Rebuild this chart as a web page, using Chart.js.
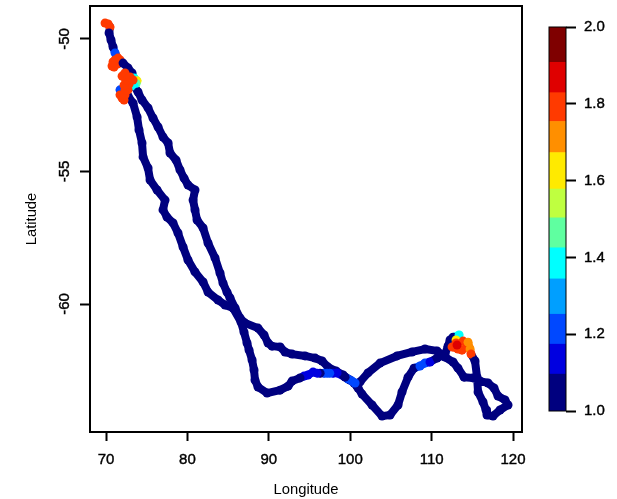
<!DOCTYPE html>
<html>
<head>
<meta charset="utf-8">
<title>Track</title>
<script src="https://cdn.jsdelivr.net/npm/chart.js@4/dist/chart.umd.min.js"></script>
<style>
  html, body { margin: 0; padding: 0; background: #fff; }
  #wrap { position: relative; width: 617px; height: 499px; }
  #wrap canvas { position: absolute; left: 0; top: 0; }
</style>
</head>
<body>
<div id="wrap">
  <canvas id="trackChart" width="617" height="499"></canvas>
  <canvas id="barChart" width="617" height="499"></canvas>
</div>
<script>
// Track values, one position per row group
const lons = [
  69.88, 70.25, 70.49, 70.37, 70.61, 70.86, 71.11, 71.47, 71.72, 71.23, 70.74, 70.98, 70.86, 71.47, 71.11,
  72.09, 72.70, 73.19, 73.44, 73.81, 73.69, 73.44, 73.93, 74.42, 75.16, 75.77, 76.39,
  77.00, 77.62, 77.86, 78.60, 79.09, 79.58, 80.07, 80.93, 80.69, 80.93, 81.18, 81.92,
  82.53, 83.39, 84.00, 84.37, 84.86, 85.23, 85.85, 86.46, 87.08, 88.67, 89.41, 89.90,
  90.39, 91.38, 91.99, 92.85, 94.45, 95.68, 96.54, 97.27, 98.25, 99.12, 99.97, 100.47,
  100.96, 101.45, 102.68, 103.91, 104.89, 105.87, 106.36, 107.10, 107.84, 108.57, 109.18, 109.80,
  110.66, 111.64, 112.01, 112.26, 112.63, 113.37, 113.00, 112.51, 113.24, 113.00, 113.86, 114.35,
  113.73, 113.12, 114.47, 114.72, 114.84, 115.33, 115.58, 115.70, 116.31, 116.68, 116.80, 117.54,
  118.40, 119.38, 119.01, 118.15, 117.66, 116.92, 115.95, 115.09, 113.98, 113.24, 112.63, 111.64,
  110.66, 109.18, 107.59, 105.75, 103.66, 102.18, 101.20, 100.84, 100.59, 100.22, 99.73, 99.36, 98.38, 97.89,
  97.48, 97.15, 96.79, 96.30, 95.93, 95.43, 94.81, 94.33, 93.83, 92.85, 92.36, 91.38, 89.78, 88.67, 88.30, 88.18,
  87.94, 87.57, 87.32, 86.95, 86.58, 85.60, 84.62, 83.76, 82.53, 81.92, 80.93, 80.07,
  79.46, 78.84, 78.23, 77.49, 77.00, 77.25, 76.27, 75.41, 75.16, 74.55, 74.42, 74.05,
  73.81, 73.32, 72.70, 71.72, 71.97, 72.21, 71.72, 72.33, 72.70, 72.33, 72.83, 72.21, 72.58, 71.97, 72.33, 72.95, 73.32
];
const lats = [
  -49.40, -49.43, -49.55, -49.77, -50.04, -50.30, -50.53, -50.72, -50.79, -50.91, -51.02, -51.06, -50.87, -50.94, -50.79,
  -50.91, -51.09, -51.28, -51.47, -51.58, -51.68, -51.77, -52.00, -52.30, -52.60, -52.98, -53.32,
  -53.70, -53.92, -54.30, -54.57, -54.94, -55.25, -55.51, -55.70, -56.08, -56.45, -56.83, -57.13,
  -57.70, -58.26, -58.83, -59.21, -59.55, -59.77, -60.15, -60.53, -60.72, -60.91, -61.17, -61.47,
  -61.59, -61.62, -61.81, -61.89, -61.96, -62.04, -62.15, -62.38, -62.53, -62.68, -62.87, -62.98,
  -63.17, -63.40, -63.81, -64.23, -64.19, -63.81, -63.32, -62.76, -62.42, -62.34, -62.23, -62.19,
  -62.04, -61.89, -61.59, -61.36, -61.25, -61.17, -61.36, -61.62, -61.70, -61.47, -61.40, -61.55,
  -61.74, -61.55, -61.44, -61.70, -61.89, -62.15, -62.76, -63.32, -63.70, -64.00, -64.19, -64.23,
  -64.00, -63.81, -63.62, -63.47, -63.17, -62.98, -62.91, -62.79, -62.76, -62.42, -62.19, -62.00,
  -61.77, -61.70, -61.81, -61.96, -62.23, -62.60, -62.94, -63.10, -62.98, -62.91, -62.83, -62.76, -62.60, -62.61,
  -62.61, -62.61, -62.61, -62.61, -62.61, -62.57, -62.68, -62.72, -62.79, -62.91, -63.10, -63.25, -63.36, -63.13, -62.87, -62.49,
  -62.11, -61.74, -61.47, -61.06, -60.68, -60.15, -60.04, -59.85, -59.55, -59.17, -58.79, -58.34,
  -57.85, -57.32, -56.94, -56.72, -56.45, -56.08, -55.70, -55.32, -54.87, -54.45, -53.92, -53.43,
  -52.94, -52.42, -52.15, -51.92, -52.23, -52.30, -52.11, -52.11, -51.92, -51.92, -51.70, -51.74, -51.55, -51.40, -51.28, -51.43, -51.55
];
const vals = [
  1.8, 1.8, 1.8, 1.05, 1.05, 1.05, 1.2, 1.8, 1.8, 1.8, 1.8, 1.8, 1.8, 1.8, 1.8,
  1.05, 1.05, 1.05, 1.4, 1.65, 1.5, 1.4, 1.05, 1.05, 1.05, 1.05, 1.05,
  1.05, 1.05, 1.05, 1.05, 1.05, 1.05, 1.05, 1.05, 1.05, 1.05, 1.05, 1.05,
  1.05, 1.05, 1.05, 1.05, 1.05, 1.05, 1.05, 1.05, 1.05, 1.05, 1.05, 1.05,
  1.05, 1.05, 1.05, 1.05, 1.05, 1.05, 1.05, 1.05, 1.05, 1.05, 1.05, 1.05,
  1.05, 1.05, 1.05, 1.05, 1.05, 1.05, 1.05, 1.05, 1.05, 1.25, 1.25, 1.15,
  1.05, 1.05, 1.05, 1.05, 1.05, 1.4, 1.65, 1.8, 1.8, 1.8, 1.8, 1.8,
  1.8, 1.88, 1.7, 1.7, 1.8, 1.05, 1.05, 1.05, 1.05, 1.05, 1.05, 1.05,
  1.05, 1.05, 1.05, 1.05, 1.05, 1.05, 1.05, 1.05, 1.05, 1.05, 1.05, 1.05,
  1.05, 1.05, 1.05, 1.05, 1.05, 1.05, 1.05, 1.05, 1.25, 1.25, 1.25, 1.05, 1.15, 1.15,
  1.25, 1.25, 1.25, 1.05, 1.15, 1.15, 1.15, 1.15, 1.05, 1.05, 1.05, 1.05, 1.05, 1.05, 1.05, 1.05,
  1.05, 1.05, 1.05, 1.05, 1.05, 1.05, 1.05, 1.05, 1.05, 1.05, 1.05, 1.05,
  1.05, 1.05, 1.05, 1.05, 1.05, 1.05, 1.05, 1.05, 1.05, 1.05, 1.05, 1.05,
  1.05, 1.05, 1.05, 1.2, 1.8, 1.8, 1.8, 1.8, 1.8, 1.8, 1.8, 1.8, 1.8, 1.8, 1.8, 1.8, 1.8
];

const lonTicks = [70, 80, 90, 100, 110, 120];
const latTicks = [-50, -55, -60];
const barTicks = [1.0, 1.2, 1.4, 1.6, 1.8, 2.0];

// Colour bar bands
const bandEdges = [1.0, 1.096, 1.174, 1.252, 1.344, 1.425, 1.503, 1.578, 1.673, 1.754, 1.829, 1.908, 2.0];
const bandColors = ['#00007f', '#0000e0', '#0048ff', '#009fff', '#00ffff', '#5fffa0',
                    '#bfff40', '#ffea00', '#ff8f00', '#ff3a00', '#df0000', '#7f0000'];

const fontFamily = '"Liberation Sans", Arial, sans-serif';

function colorFor(v) {
  for (let i = 0; i < bandColors.length; i++) {
    if (v < bandEdges[i + 1]) return bandColors[i];
  }
  return bandColors[bandColors.length - 1];
}

// Box around the plot area
const boxPlugin = {
  id: 'box',
  afterDatasetsDraw(chart) {
    const a = chart.chartArea;
    const ctx = chart.ctx;
    ctx.save();
    ctx.strokeStyle = '#000';
    ctx.lineWidth = 2;
    ctx.strokeRect(a.left, a.top, a.right - a.left, a.bottom - a.top);
    ctx.restore();
  }
};

new Chart(document.getElementById('trackChart'), {
  type: 'line',
  data: {
    datasets: [{
      data: lons.map((lon, i) => ({ x: lon, y: lats[i] })),
      parsing: false,
      borderWidth: 8,
      borderColor: '#00007f',
      borderJoinStyle: 'round',
      borderCapStyle: 'round',
      segment: { borderColor: c => colorFor(vals[c.p1DataIndex]) },
      pointRadius: 4.5,
      pointBorderWidth: 0,
      pointBackgroundColor: c => colorFor(vals[c.dataIndex]),
      tension: 0
    }]
  },
  options: {
    responsive: false,
    animation: false,
    layout: { padding: { top: 6, right: 95 } },
    plugins: { legend: { display: false }, tooltip: { enabled: false } },
    scales: {
      x: {
        type: 'linear',
        min: 68.03,
        max: 121.1,
        afterBuildTicks: s => { s.ticks = lonTicks.map(v => ({ value: v })); },
        afterFit: s => { s.height = 67; s.paddingLeft = 0; s.paddingRight = 0; },
        border: { display: false },
        grid: { drawOnChartArea: false, drawTicks: true, tickLength: 9, tickWidth: 2, tickColor: '#000' },
        ticks: { color: '#000', font: { family: fontFamily, size: 15 }, maxRotation: 0, padding: 10, textStrokeColor: '#000', textStrokeWidth: 0.4 },
        title: { display: true, text: 'Longitude', color: '#000', font: { family: fontFamily, size: 14.8 }, padding: { top: 0, bottom: 0 } }
      },
      y: {
        type: 'linear',
        min: -64.83,
        max: -48.755,
        afterBuildTicks: s => { s.ticks = latTicks.map(v => ({ value: v })); },
        afterFit: s => { s.width = 90; s.paddingTop = 0; s.paddingBottom = 0; },
        border: { display: false },
        grid: { drawOnChartArea: false, drawTicks: true, tickLength: 10, tickWidth: 2, tickColor: '#000' },
        ticks: {
          color: '#000', font: { family: fontFamily, size: 15 },
          minRotation: 90, maxRotation: 90, crossAlign: 'center', padding: 4,
          textStrokeColor: '#000', textStrokeWidth: 0.4
        },
        title: { display: true, text: 'Latitude', color: '#000', font: { family: fontFamily, size: 14.8 }, padding: { top: 23, bottom: 0 } }
      }
    }
  },
  plugins: [boxPlugin]
});

// Colour bar, one floating bar per band
new Chart(document.getElementById('barChart'), {
  type: 'bar',
  data: {
    labels: ['v'],
    datasets: bandColors.map((color, i) => ({
      data: [[bandEdges[i], bandEdges[i + 1]]],
      backgroundColor: color,
      borderWidth: 0,
      barPercentage: 1,
      categoryPercentage: 1
    }))
  },
  options: {
    responsive: false,
    animation: false,
    layout: { padding: { left: 549, top: 27, right: 0, bottom: 88 } },
    plugins: { legend: { display: false }, tooltip: { enabled: false } },
    scales: {
      x: { stacked: true, display: false },
      y: {
        position: 'right',
        min: 1,
        max: 2,
        afterBuildTicks: s => { s.ticks = barTicks.map(v => ({ value: v })); },
        afterFit: s => { s.width = 51; s.paddingTop = 0; s.paddingBottom = 0; },
        border: { display: false },
        grid: { drawOnChartArea: false, drawTicks: true, tickLength: 10, tickWidth: 2, tickColor: '#000' },
        ticks: { color: '#000', font: { family: fontFamily, size: 15 }, padding: 8, textStrokeColor: '#000', textStrokeWidth: 0.4, callback: v => v.toFixed(1) }
      }
    }
  },
  plugins: [{
    id: 'barBox',
    afterDatasetsDraw(chart) {
      const a = chart.chartArea;
      const ctx = chart.ctx;
      ctx.save();
      ctx.strokeStyle = '#000';
      ctx.lineWidth = 1;
      ctx.strokeRect(a.left, a.top, a.right - a.left, a.bottom - a.top);
      ctx.restore();
    }
  }]
});
</script>
</body>
</html>
